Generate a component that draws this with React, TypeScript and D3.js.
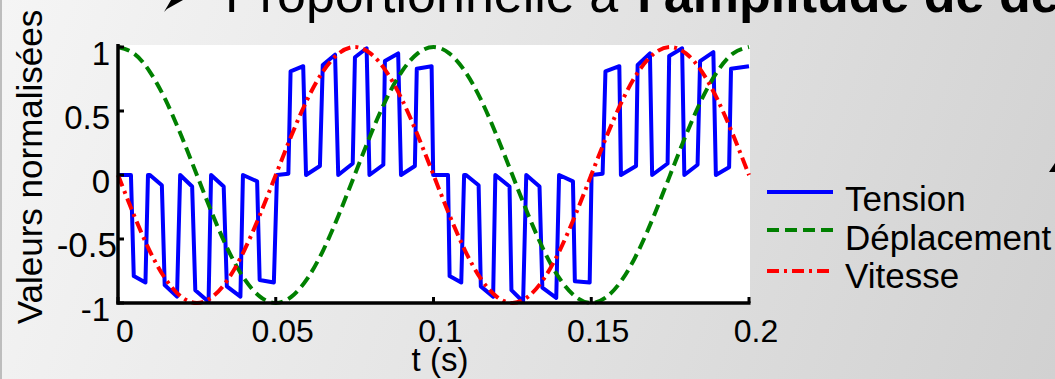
import React from "react";
import * as d3 from "d3";

// ---- data ----
const timeSamples = [
  0, 0.005, 0.01, 0.015, 0.02, 0.025, 0.03, 0.035, 0.04, 0.045, 0.05,
  0.055, 0.06, 0.065, 0.07, 0.075, 0.08, 0.085, 0.09, 0.095, 0.1,
  0.105, 0.11, 0.115, 0.12, 0.125, 0.13, 0.135, 0.14, 0.145, 0.15,
  0.155, 0.16, 0.165, 0.17, 0.175, 0.18, 0.185, 0.19, 0.195, 0.2,
];
const deplacement = [
  1, 0.95, 0.81, 0.59, 0.31, 0, -0.31, -0.59, -0.81, -0.95, -1,
  -0.95, -0.81, -0.59, -0.31, 0, 0.31, 0.59, 0.81, 0.95, 1,
  0.95, 0.81, 0.59, 0.31, 0, -0.31, -0.59, -0.81, -0.95, -1,
  -0.95, -0.81, -0.59, -0.31, 0, 0.31, 0.59, 0.81, 0.95, 1,
];
const vitesse = [
  0, -0.31, -0.59, -0.81, -0.95, -1, -0.95, -0.81, -0.59, -0.31, 0,
  0.31, 0.59, 0.81, 0.95, 1, 0.95, 0.81, 0.59, 0.31, 0,
  -0.31, -0.59, -0.81, -0.95, -1, -0.95, -0.81, -0.59, -0.31, 0,
  0.31, 0.59, 0.81, 0.95, 1, 0.95, 0.81, 0.59, 0.31, 0,
];
const tensionT = [
  0, 0.0041, 0.005, 0.0087, 0.0095, 0.0101, 0.0139, 0.0148, 0.0187, 0.0197,
  0.0235, 0.0245, 0.0287, 0.0295, 0.0335, 0.0345, 0.0388, 0.0396, 0.0441, 0.0449,
  0.0494, 0.0504, 0.054, 0.0547, 0.0587, 0.0596, 0.064, 0.0649, 0.0688, 0.0698,
  0.0744, 0.0751, 0.0788, 0.0797, 0.0841, 0.0846, 0.0888, 0.0897, 0.0941, 0.0947,
  0.0994, 0.0999,
  0.1046, 0.1051, 0.1088, 0.1097, 0.1103, 0.1143, 0.115, 0.1189, 0.1196,
  0.1241, 0.1247, 0.1284, 0.1294, 0.1336, 0.1345, 0.1389, 0.1398, 0.1442, 0.1448,
  0.1495, 0.1501, 0.1536, 0.1545, 0.1589, 0.1594, 0.1642, 0.1647, 0.1686, 0.1693,
  0.1742, 0.1747, 0.1788, 0.1795, 0.1837, 0.1845, 0.1887, 0.1895, 0.1937, 0.1943,
  0.2,
];
const tensionV = [
  0, 0, -0.79, -0.84, 0, 0, -0.08, -0.86, -0.95, 0,
  -0.09, -0.9, -0.99, 0, -0.09, -0.87, -0.95, 0, -0.05, -0.82,
  -0.84, 0, 0.01, 0.81, 0.85, 0, 0.07, 0.86, 0.94, 0,
  0.09, 0.92, 0.99, 0, 0.08, 0.89, 0.95, 0, 0.07, 0.83,
  0.85, 0,
  0, -0.79, -0.84, 0, 0, -0.08, -0.87, -0.95, 0,
  -0.09, -0.9, -0.99, 0, -0.09, -0.88, -0.96, 0, -0.05, -0.83,
  -0.84, 0, 0.01, 0.81, 0.85, 0, 0.07, 0.86, 0.95, 0,
  0.09, 0.93, 0.99, 0, 0.08, 0.89, 0.96, 0, 0.06, 0.83,
  0.85,
];
const xTicks = [0, 0.05, 0.1, 0.15, 0.2];
const xTickLabels = ["0", "0.05", "0.1", "0.15", "0.2"];
const yTicks = [1, 0.5, 0, -0.5, -1];
const yTickLabels = ["1", "0.5", "0", "-0.5", "-1"];
const seriesNames = ["Tension", "Déplacement", "Vitesse"];
const seriesColors = ["#0000ff", "#008000", "#ff0000"];
const seriesDash = ["none", "12 6", "12 5 3 5"];

const W = 1055;
const H = 379;
const FONT = "'Liberation Sans', Arial, Helvetica, sans-serif";

export default function App() {
  const x = d3.scaleLinear().domain([0, 0.2]).range([118, 749]);
  const y = d3.scaleLinear().domain([-1, 1]).range([303, 47]);

  const lineT = d3
    .line<number>()
    .x((_, i) => x(tensionT[i]))
    .y((v) => y(v));
  const lineS = d3
    .line<number>()
    .x((_, i) => x(timeSamples[i]))
    .y((v) => y(v))
    .curve(d3.curveNatural);

  const paths = [
    lineT(tensionV) || "",
    lineS(deplacement) || "",
    lineS(vitesse) || "",
  ];

  const legendY = [192, 230, 271];
  const legendTextY = [211, 250, 288];

  return (
    <svg
      width={W}
      height={H}
      style={{ position: "absolute", left: 0, top: 0, display: "block" }}
      fontFamily={FONT}
    >
      <defs>
        <linearGradient id="bg" gradientUnits="userSpaceOnUse" x1={0} y1={0} x2={W} y2={H}>
          <stop offset="0" stopColor="#f5f5f5" />
          <stop offset="0.5" stopColor="#e4e4e4" />
          <stop offset="1" stopColor="#d1d1d1" />
        </linearGradient>
        <clipPath id="plotclip">
          <rect x={116} y={40} width={636} height={266} />
        </clipPath>
      </defs>
      <rect x={0} y={0} width={W} height={H} fill="url(#bg)" />
      <rect x={0} y={0} width={2} height={H} fill="#bdbdbd" />

      {/* title fragment */}
      <path d="M164,12 L171,0 L183,0 L167,9 Z" fill="#000" />
      <text x={225} y={12} fontSize={52} fill="#000">
        Proportionnelle à
      </text>
      <text x={637} y={12} fontSize={52} fontWeight="bold" fill="#000">
        l'amplitude de déplacement
      </text>
      <path d="M1049,172 L1055,163 L1055,172 Z" fill="#000" />

      {/* plot area */}
      <rect x={118} y={45} width={632} height={258} fill="#ffffff" />

      <g clipPath="url(#plotclip)">
        {paths.map((d, i) => (
          <path
            key={i}
            d={d}
            fill="none"
            stroke={seriesColors[i]}
            strokeWidth={4}
            strokeDasharray={seriesDash[i]}
            strokeLinejoin="round"
          />
        ))}
      </g>

      {/* axes */}
      <line x1={118} y1={44} x2={118} y2={304.5} stroke="#000" strokeWidth={3.5} />
      <line x1={116.5} y1={303} x2={750.5} y2={303} stroke="#000" strokeWidth={3.5} />
      {yTicks.map((t, i) => (
        <g key={"y" + i}>
          <line x1={118} x2={124} y1={y(t)} y2={y(t)} stroke="#000" strokeWidth={3} />
          <text
            x={t === -0.5 ? 117 : 110}
            y={y(t) + 18}
            fontSize={t === -0.5 ? 35 : 33}
            textAnchor="end"
            fill="#000"
          >
            {yTickLabels[i]}
          </text>
        </g>
      ))}
      {xTicks.map((t, i) => (
        <g key={"x" + i}>
          <line x1={x(t)} x2={x(t)} y1={303} y2={297} stroke="#000" strokeWidth={3} />
          <text x={x(t) + 7} y={342} fontSize={32} textAnchor="middle" fill="#000">
            {xTickLabels[i]}
          </text>
        </g>
      ))}
      <text x={440} y={371} fontSize={33} textAnchor="middle" fill="#000">
        t (s)
      </text>
      <text
        transform="translate(42,167) rotate(-90)"
        fontSize={35}
        textAnchor="middle"
        fill="#000"
      >
        Valeurs normalisées
      </text>

      {/* legend */}
      {seriesNames.map((n, i) => (
        <g key={"l" + i}>
          <line
            x1={767}
            x2={833}
            y1={legendY[i]}
            y2={legendY[i]}
            stroke={seriesColors[i]}
            strokeWidth={4}
            strokeDasharray={seriesDash[i]}
          />
          <text x={845} y={legendTextY[i]} fontSize={35} fill="#000">
            {n}
          </text>
        </g>
      ))}
    </svg>
  );
}
